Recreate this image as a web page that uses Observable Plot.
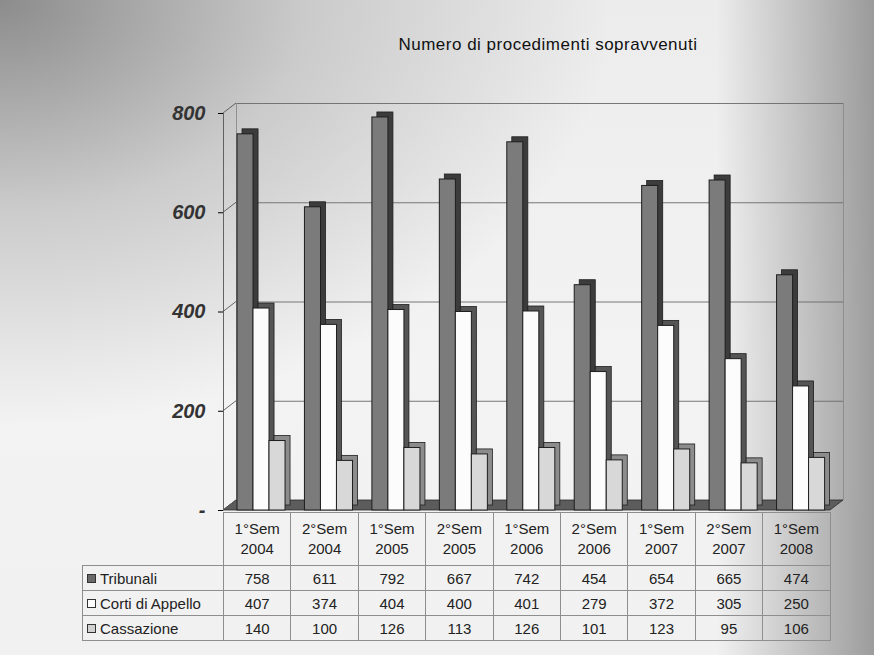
<!DOCTYPE html>
<html><head><meta charset="utf-8">
<script src="https://cdn.jsdelivr.net/npm/d3@7"></script>
<script src="https://cdn.jsdelivr.net/npm/@observablehq/plot@0.6"></script>
<style>
body{margin:0;}
#page{position:relative;width:874px;height:655px;overflow:hidden;
background:
 linear-gradient(90deg, rgba(255,255,255,0) 0%, rgba(255,255,255,0) 82%, rgba(100,100,100,0.6) 100%),
 radial-gradient(ellipse 70% 65% at 0% 0%, rgba(135,135,135,0.95) 0%, rgba(180,180,180,0.6) 50%, rgba(235,235,235,0) 100%),
 linear-gradient(180deg, #ececec 0%, #f3f3f3 55%, #f1f1f1 100%);
font-family:"Liberation Sans", Arial, sans-serif;}
#title{position:absolute;left:298px;width:500px;top:35px;text-align:center;font-size:17px;letter-spacing:0.5px;color:#111;}
#chart{position:absolute;left:0;top:0;}
#chart svg g[aria-label^="y-axis"] text{font:italic bold 20px "Liberation Sans", Arial, sans-serif;fill:#333;}
#tbl{position:absolute;left:82px;top:512px;border-collapse:collapse;table-layout:fixed;
 font-family:"Liberation Sans Narrow","Liberation Sans",Arial,sans-serif;font-size:15px;color:#222;}
#tbl td{border:1px solid #8e8e8e;text-align:center;padding:0;}
#tbl tr.head td{height:52px;line-height:20px;}
#tbl tr.head td.blank{border:none;border-right:1px solid #8e8e8e;}
#tbl tr.row td{height:24px;}
#tbl td.lab{text-align:left;padding-left:4px;}
.sw{display:inline-block;width:7px;height:7px;border:1px solid #333;margin-right:4px;vertical-align:1px;}
</style></head>
<body>
<div id="page">
  <div id="title">Numero di procedimenti sopravvenuti</div>
  <div id="chart"></div>
  <table id="tbl"></table>
</div>
<script>
const categories = ["1°Sem 2004","2°Sem 2004","1°Sem 2005","2°Sem 2005","1°Sem 2006","2°Sem 2006","1°Sem 2007","2°Sem 2007","1°Sem 2008"];
const seriesNames = ["Tribunali","Corti di Appello","Cassazione"];
const tribunali = [758, 611, 792, 667, 742, 454, 654, 665, 474];
const cortiDiAppello = [407, 374, 404, 400, 401, 279, 372, 305, 250];
const cassazione = [140, 100, 126, 113, 126, 101, 123, 95, 106];
const yTicks = [0, 200, 400, 600, 800];

const seriesValues = [tribunali, cortiDiAppello, cassazione];
const frontFill = ["#7b7b7b", "#fcfcfc", "#d8d8d8"];
const sideFill = ["#3c3c3c", "#555555", "#8c8c8c"];
const swatch = ["#6a6a6a", "#ffffff", "#d0d0d0"];
const insets = [[14, 37.4], [30, 21.4], [46, 5.4]];
const DX = 5, DY = -5;

const marks = [
  Plot.ruleY(yTicks.slice(1), {x1: 0, x2: 9, dx: 13, dy: -10, stroke: "#6a6a6a", strokeWidth: 0.9}),
  Plot.ruleX([0, 9], {y1: 0, y2: 800, dx: 13, dy: -10, stroke: "#8a8a8a", strokeWidth: 0.9}),
  Plot.ruleX([0], {y1: 0, y2: 800, stroke: "#555", strokeWidth: 0.9})
];
seriesValues.forEach((vals, si) => {
  const d = vals.map((v, i) => ({i, v}));
  const common = {x1: r => r.i, x2: r => r.i + 1, y: "v", insetLeft: insets[si][0], insetRight: insets[si][1]};
  marks.push(Plot.rectY(d, {...common, dx: DX, dy: DY, fill: sideFill[si], stroke: "#1e1e1e", strokeWidth: 0.8}));
  marks.push(Plot.rectY(d, {...common, fill: frontFill[si], stroke: "#1e1e1e", strokeWidth: 1}));
});

const plot = Plot.plot({
  width: 874, height: 520,
  marginTop: 113, marginBottom: 10, marginLeft: 223, marginRight: 44,
  style: {background: "transparent", overflow: "visible"},
  x: {domain: [0, 9], axis: null},
  y: {domain: [0, 800], ticks: 4, tickSize: 5, tickPadding: 13, label: null,
      tickFormat: d => d === 0 ? "-" : String(d)},
  marks
});
document.getElementById("chart").appendChild(plot);

// 3D floor and left-wall connectors drawn from the plot's own scales
const sx = plot.scale("x"), sy = plot.scale("y");
const svg = d3.select(plot);
const X0 = sx.apply(0), X9 = sx.apply(9), Y0 = sy.apply(0);
const deco = svg.insert("g", "g");
deco.append("path")
  .attr("d", `M${X0},${Y0}L${X9},${Y0}L${X9 + 13},${Y0 - 10}L${X0 + 13},${Y0 - 10}Z`)
  .attr("fill", "#5c5c5c").attr("stroke", "#2a2a2a").attr("stroke-width", 0.8);
yTicks.forEach(t => {
  const y = sy.apply(t);
  deco.append("line").attr("x1", X0).attr("y1", y).attr("x2", X0 + 13).attr("y2", y - 10)
    .attr("stroke", "#555").attr("stroke-width", 0.9);
});

// data table
const tbl = d3.select("#tbl");
const colg = tbl.append("colgroup");
colg.append("col").attr("style", "width:141px");
categories.forEach(() => colg.append("col").attr("style", "width:67.4px"));
const head = tbl.append("tr").attr("class", "head");
head.append("td").attr("class", "blank");
categories.forEach(c => {
  const [a, b] = c.split(" ");
  head.append("td").html(a + "<br>" + b);
});
seriesNames.forEach((s, si) => {
  const tr = tbl.append("tr").attr("class", "row");
  tr.append("td").attr("class", "lab")
    .html(`<span class="sw" style="background:${swatch[si]}"></span>${s}`);
  seriesValues[si].forEach(v => tr.append("td").text(v));
});
</script>
</body></html>
